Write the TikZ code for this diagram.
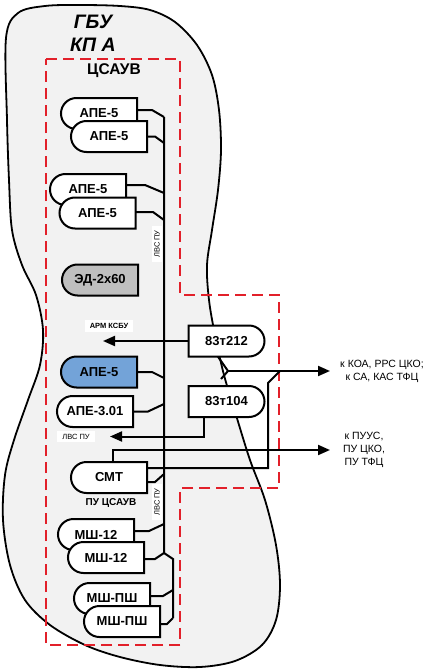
\documentclass[tikz,border=0pt]{standalone}
\usepackage{fontspec}
\setmainfont{Liberation Sans}
\usetikzlibrary{arrows.meta}
\definecolor{blobfill}{RGB}{242,242,242}
\definecolor{dashred}{RGB}{226,32,42}
\definecolor{edgrey}{RGB}{191,191,191}
\definecolor{apeblue}{RGB}{115,163,216}
\newcommand{\lbox}[5]{%
  \filldraw[boxline, fill=#4] ({#2+38},{#3-15.5}) -- ({#2-22.5},{#3-15.5}) arc[start angle=270, end angle=90, radius=15.5] -- ({#2+38},{#3+15.5}) -- cycle;
  \node[boxtext] (#1) at (#2,#3) {#5};
}
\newcommand{\rbox}[5]{%
  \filldraw[boxline, fill=#4] ({#2-38},{#3-15.5}) -- ({#2+22.5},{#3-15.5}) arc[start angle=-90, end angle=90, radius=15.5] -- ({#2-38},{#3+15.5}) -- cycle;
  \node[boxtext] (#1) at (#2,#3) {#5};
}
\begin{document}
\begin{tikzpicture}[x=1pt,y=-1pt,
  blobline/.style={line width=1.8pt, fill=blobfill, draw=black},
  boxline/.style={line width=2pt, draw=black},
  boxtext/.style={minimum width=76pt, minimum height=31pt, inner sep=0pt, font=\fontsize{13}{15}\selectfont\bfseries},
  conn/.style={line width=2pt, draw=black},
  arr/.style={conn, -{Triangle[length=12pt,width=10pt]}},
  reddash/.style={line width=2.4pt, draw=dashred, dash pattern=on 11pt off 6pt},
  title/.style={font=\fontsize{19.5}{21}\selectfont\bfseries\itshape, inner sep=0pt},
  small/.style={font=\fontsize{7.5}{8}\selectfont, fill=white, inner xsep=5pt, inner ysep=3pt},
  rlabel/.style={font=\fontsize{10.5}{13}\selectfont, align=center, inner sep=0pt}
]
\useasboundingbox (0,0) rectangle (431,669);
% outer blob
\draw[blobline] plot[smooth cycle, tension=0.55] coordinates {
 (6,38) (18,13) (45,6) (80,5) (120,6) (150,10) (175,22) (197,45) (212,75) (219,110)
 (221,150) (218,190) (212,230) (207,265) (209,300) (215,335) (224,375) (236,415)
 (250,460) (265,500) (276,545) (280,585) (276,620) (262,645) (235,661) (200,667)
 (160,665) (120,657) (85,645) (50,625) (25,600) (10,565) (3,520) (5,475) (14,440)
 (28,400) (40,365) (43,330) (36,295) (22,265) (12,230) (9,180) (7,120)};
\node[title] (gbu) at (93,22) {ГБУ};
\node[title] (kpa) at (93,45) {КП А};
% red dashed region
\draw[reddash] (46,59) -- (180,59) -- (180,295) -- (279,295) -- (279,488) -- (180,488) -- (180,645) -- (46,645) -- cycle;
\node[font=\fontsize{15.5}{17}\selectfont\bfseries, inner sep=0pt] (csauv) at (114,71) {ЦСАУВ};
% bus
\coordinate (bt) at (164,117);
\coordinate (bb) at (164,553);
\coordinate (bk) at (173,559);
\coordinate (be) at (173,618);
\draw[conn] (bt) -- (bb) -- (bk) -- (be);
% boxes
\lbox{a1}{99}{113.5}{white}{АПЕ-5}
\lbox{a2}{109}{136.5}{white}{АПЕ-5}
\lbox{a3}{88}{189.5}{white}{АПЕ-5}
\lbox{a4}{97.5}{213}{white}{АПЕ-5}
\lbox{e1}{100}{280}{edgrey}{ЭД-2x60}
\lbox{b1}{99}{372}{apeblue}{АПЕ-5}
\lbox{b2}{95}{411.5}{white}{АПЕ-3.01}
\rbox{t1}{226.5}{341}{white}{83т212}
\rbox{t2}{226.5}{401.5}{white}{83т104}
\lbox{s1}{109}{477.5}{white}{СМТ}
\lbox{m1}{96}{534.5}{white}{МШ-12}
\lbox{m2}{106}{557.5}{white}{МШ-12}
\lbox{p1}{112}{598.5}{white}{МШ-ПШ}
\lbox{p2}{122}{621.5}{white}{МШ-ПШ}
% bus connectors
\draw[conn] ([yshift=3.5pt]a1.east) -- (152,110) -- (bt);
\draw[conn] (a2.east) -- (155,136.5) -- (164,143);
\draw[conn] ([yshift=4.5pt]a3.east) -- (145,185) -- (164,193);
\draw[conn] ([yshift=1pt]a4.east) -- (153,212) -- (164,220);
\draw[conn] (b1.east) -- (152,372) -- (164,378);
\draw[conn] (b2.east) -- (148,411.5) -- (164,404);
\draw[conn] ([yshift=-4.5pt]s1.east) -- (155,482) -- (164,474);
\draw[conn] ([yshift=3.5pt]m1.east) -- (149,531) -- (164,524);
\draw[conn] ([yshift=-1.5pt]m2.east) -- (155,559) -- (bb);
\draw[conn] ([yshift=2.5pt]p1.east) -- (163,596) -- (173,590);
\draw[conn] ([yshift=-2.5pt]p2.east) -- (167,624) -- (be);
% arrows
\coordinate (armtip) at (103,341);
\draw[arr] (t1.west) -- (armtip);
\node[small, font=\fontsize{7.5}{8}\selectfont\bfseries] (arm) at (109,326) {АРМ КСБУ};
\coordinate (j1) at (228,371);
\coordinate (koatip) at (330,371);
\draw[conn] ([xshift=-8.5pt]t1.south) -- (j1) -- (221,379);
\draw[arr] (j1) -- (koatip);
\draw[conn] ([yshift=9.5pt]s1.east) -- (268,468) -- (268,383) -- (280,371);
\coordinate (lvtip) at (110,436.5);
\draw[arr] ([xshift=-22.5pt]t2.south) -- (204,436.5) -- (lvtip);
\node[small] (lvs2) at (76,436.5) {ЛВС ПУ};
\coordinate (puustip) at (330,450);
\draw[arr] ([xshift=4pt]s1.north) -- (113,450) -- (puustip);
% labels
\node[small, rotate=90, inner xsep=4pt, inner ysep=2pt] (lvs1) at (157,244) {ЛВС ПУ};
\node[small, rotate=90, inner xsep=4pt, inner ysep=2pt] (lvs3) at (157,502) {ЛВС ПУ};
\node[font=\fontsize{10}{12}\selectfont\bfseries, inner sep=0pt] (pucs) at (111,503) {ПУ ЦСАУВ};
\node[rlabel] (koa) at (382,371) {к КОА, РРС ЦКО;\\к СА, КАС ТФЦ};
\node[rlabel] (puus) at (364,450) {к ПУУС,\\ПУ ЦКО,\\ПУ ТФЦ};
\end{tikzpicture}
\end{document}
